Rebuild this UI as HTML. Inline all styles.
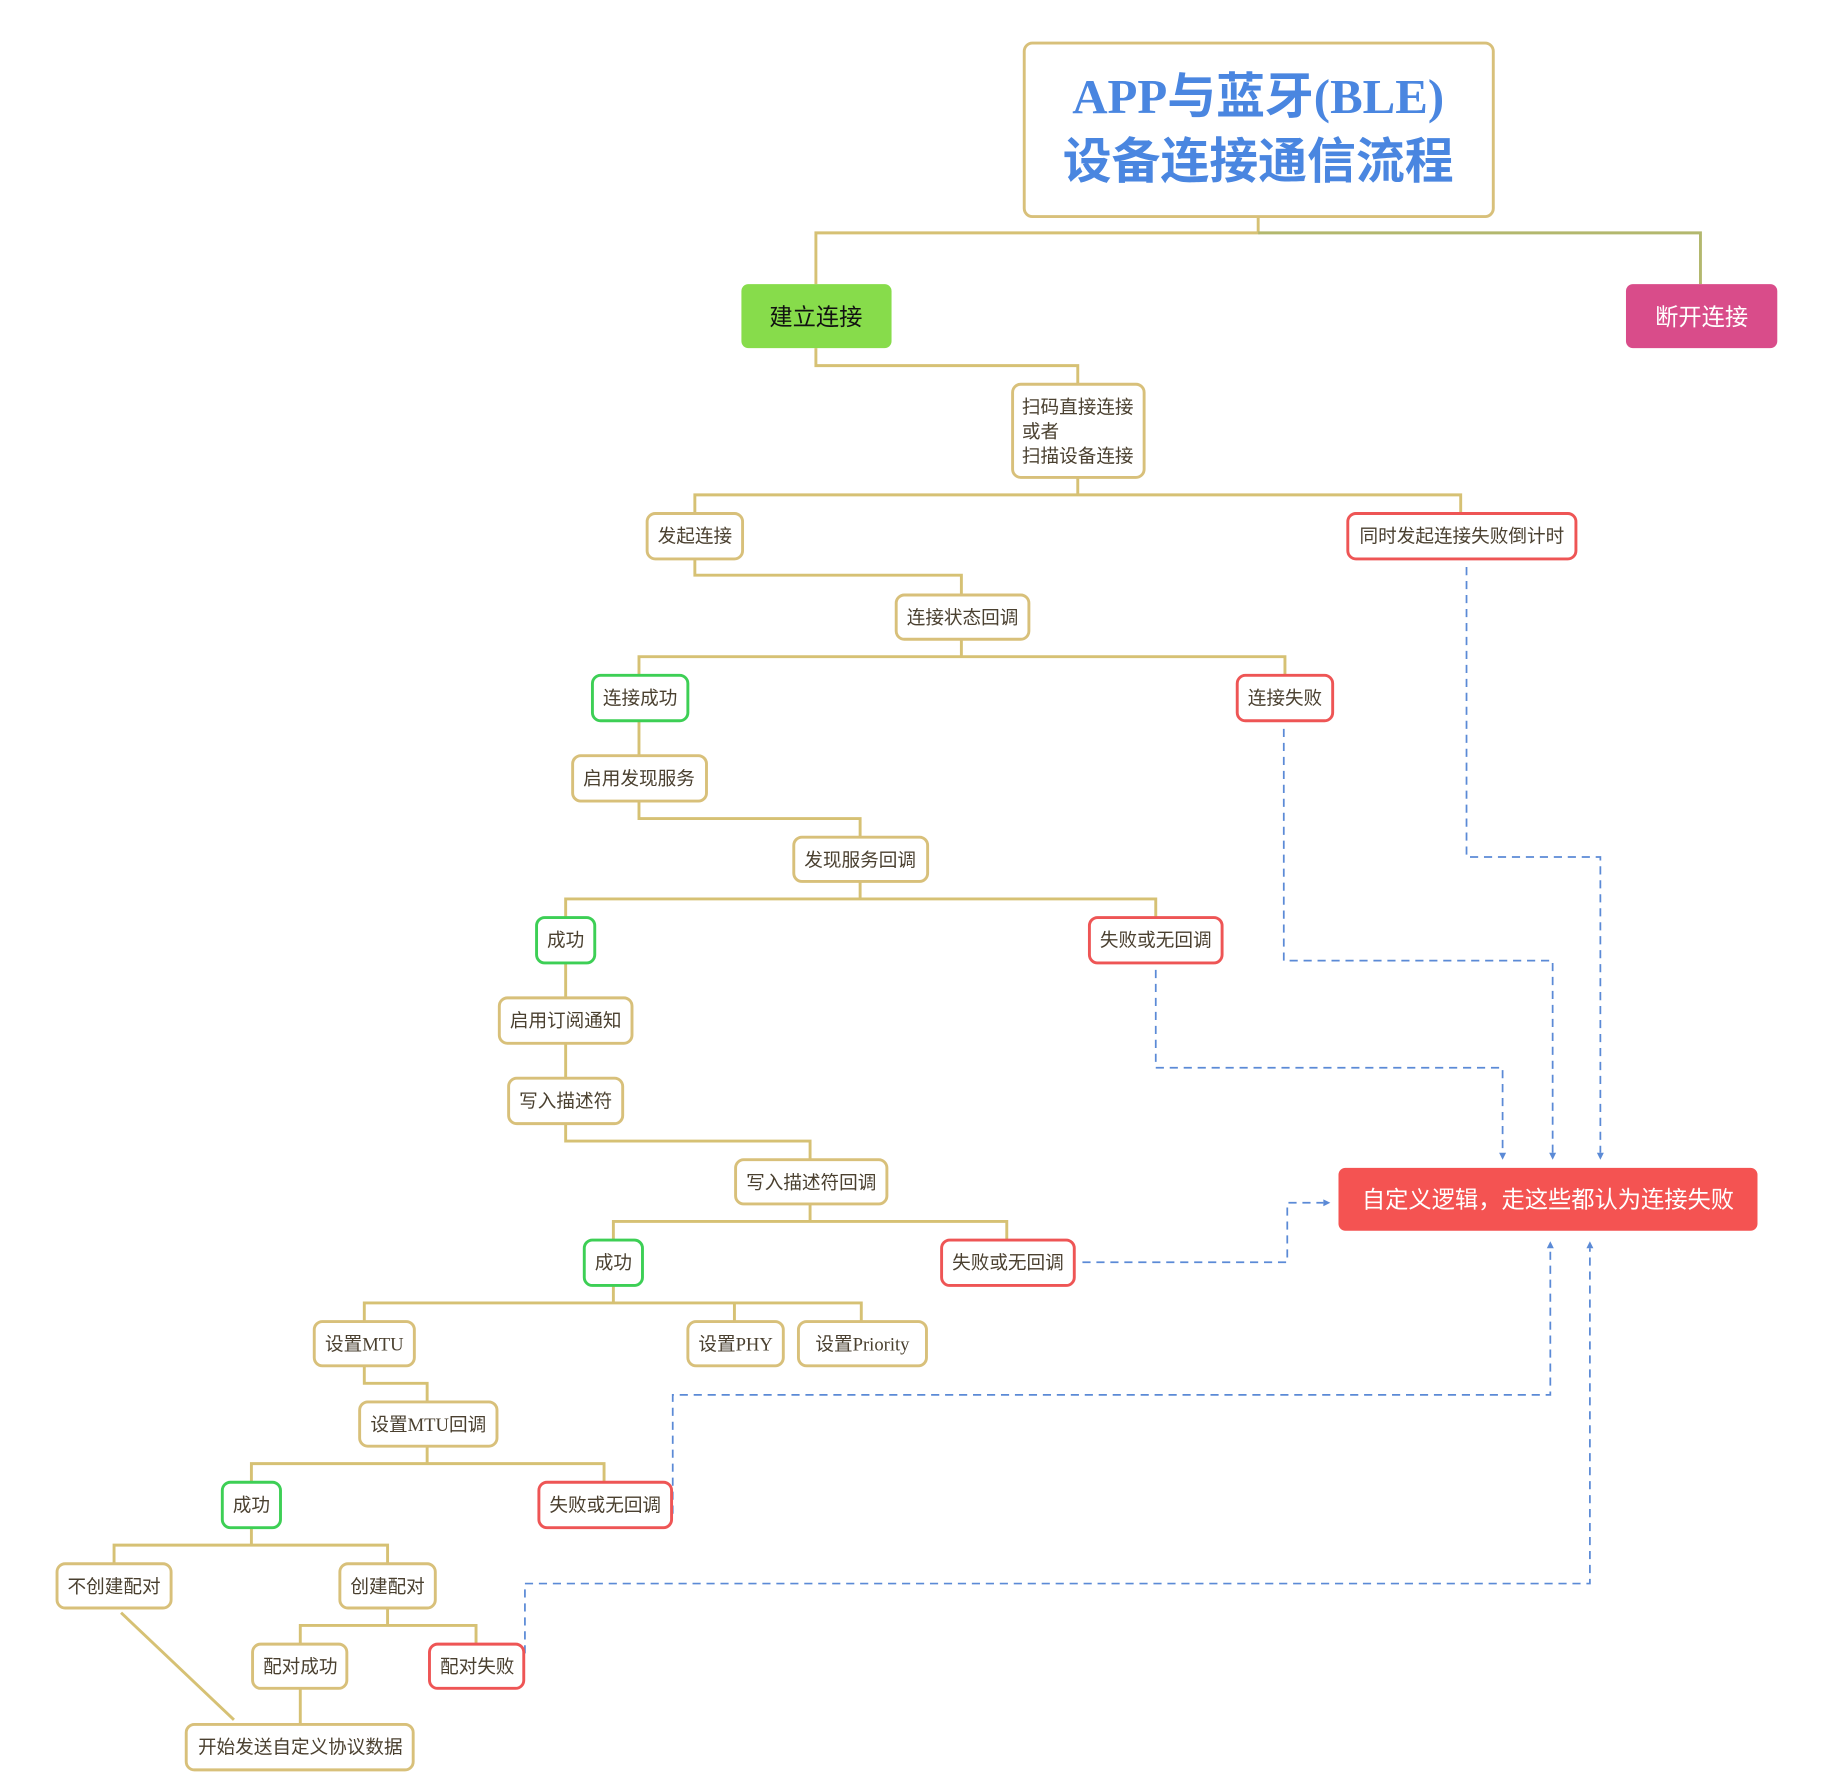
<!DOCTYPE html>
<html><head><meta charset="utf-8"><style>
html,body{margin:0;padding:0;background:#fff;}
svg{display:block;}
text{font-family:"Liberation Serif","Noto Sans CJK SC",sans-serif;}
.n rect{fill:#fff;stroke:#d8c07a;stroke-width:2.5;}
.g rect{stroke:#3dcf55;}
.r rect{stroke:#ee5555;}
.t{font-size:16px;fill:#4a4030;text-anchor:middle;font-family:"Liberation Serif","Noto Sans CJK SC",sans-serif;}
.l{fill:none;stroke:#d6c174;stroke-width:2.5;}
.d{fill:none;stroke:#5b8ad6;stroke-width:1.5;stroke-dasharray:7,5;}
.a{fill:#5b8ad6;}
</style></head><body>
<svg width="1825" height="1785" viewBox="0 0 1568 1533" preserveAspectRatio="none" xmlns="http://www.w3.org/2000/svg">
<!-- connectors -->
<path class="l" d="M1081 186V200H701V244"/>
<path class="l" style="stroke:#b3b86e" d="M1081 200H1461V244"/>
<path class="l" d="M701 299V314H926V330"/>
<path class="l" d="M926 410V425H597V441M926 425H1255V441"/>
<path class="l" d="M597 480V494H826V511"/>
<path class="l" d="M826 549V564H549V580M826 564H1104V580"/>
<path class="l" d="M549 619V649"/>
<path class="l" d="M549 688V703H739V719"/>
<path class="l" d="M739 757V772H486V788M739 772H993V788"/>
<path class="l" d="M486 827V857M486 896V926"/>
<path class="l" d="M486 965V980H696V996"/>
<path class="l" d="M696 1034V1049H527V1065M696 1049H865V1065"/>
<path class="l" d="M527 1104V1119H313V1135M527 1119H740V1135M631 1119V1135"/>
<path class="l" d="M313 1173V1188H367V1204"/>
<path class="l" d="M367 1242V1257H216V1273M367 1257H519V1273"/>
<path class="l" d="M216 1312V1327H98V1343M216 1327H333V1343"/>
<path class="l" d="M333 1381V1396H258V1412M333 1396H409V1412"/>
<path class="l" d="M258 1450V1481"/>
<path class="l" d="M104 1385L201 1477"/>
<!-- dashed -->
<path class="d" d="M1260 487V736H1375V990"/><path class="a" d="M1372 990h6l-3 6z"/>
<path class="d" d="M1103 626V825H1334V990"/><path class="a" d="M1331 990h6l-3 6z"/>
<path class="d" d="M993 833V917H1291V990"/><path class="a" d="M1288 990h6l-3 6z"/>
<path class="d" d="M930 1084H1106V1033H1137"/><path class="a" d="M1137 1030v6l6 -3z"/>
<path class="d" d="M578 1300V1198H1332V1072"/><path class="a" d="M1329 1072h6l-3 -6z"/>
<path class="d" d="M451 1420V1360H1366V1072"/><path class="a" d="M1363 1072h6l-3 -6z"/>
<!-- title -->
<rect x="880" y="37" width="403" height="149" rx="7" fill="#fff" stroke="#d8c07a" stroke-width="2.5"/>
<text x="1081" y="97" text-anchor="middle" font-size="42" font-weight="bold" fill="#4a86e0">APP与蓝牙(BLE)</text>
<text x="1081" y="153" text-anchor="middle" font-size="42" font-weight="bold" fill="#4a86e0" style="font-family:'Noto Sans CJK SC',sans-serif">设备连接通信流程</text>
<rect x="637" y="244" width="129" height="55" rx="6" fill="#87dc4b"/>
<text x="701" y="279" text-anchor="middle" font-size="20" fill="#111" style="font-family:'Noto Sans CJK SC',sans-serif">建立连接</text>
<rect x="1397" y="244" width="130" height="55" rx="6" fill="#d94c8a"/>
<text x="1462" y="279" text-anchor="middle" font-size="20" fill="#fff" style="font-family:'Noto Sans CJK SC',sans-serif">断开连接</text>
<rect x="1150" y="1003" width="360" height="54" rx="6" fill="#f45352"/>
<text x="1330" y="1037" text-anchor="middle" font-size="20" fill="#fff" style="font-family:'Noto Sans CJK SC',sans-serif">自定义逻辑，走这些都认为连接失败</text>
<!-- nodes -->
<g class="n"><rect x="870" y="330" width="113" height="80" rx="7"/>
<text class="t" x="878" y="355" style="text-anchor:start">扫码直接连接</text>
<text class="t" x="878" y="376" style="text-anchor:start">或者</text>
<text class="t" x="878" y="397" style="text-anchor:start">扫描设备连接</text></g>
<g class="n"><rect x="556" y="441" width="82" height="39" rx="7"/><text class="t" x="597" y="466">发起连接</text></g>
<g class="n r"><rect x="1158" y="441" width="196" height="39" rx="7"/><text class="t" x="1256" y="466">同时发起连接失败倒计时</text></g>
<g class="n"><rect x="770" y="511" width="114" height="38" rx="7"/><text class="t" x="827" y="536">连接状态回调</text></g>
<g class="n g"><rect x="509" y="580" width="82" height="39" rx="7"/><text class="t" x="550" y="605">连接成功</text></g>
<g class="n r"><rect x="1063" y="580" width="82" height="39" rx="7"/><text class="t" x="1104" y="605">连接失败</text></g>
<g class="n"><rect x="492" y="649" width="115" height="39" rx="7"/><text class="t" x="549" y="674">启用发现服务</text></g>
<g class="n"><rect x="682" y="719" width="115" height="38" rx="7"/><text class="t" x="739" y="744">发现服务回调</text></g>
<g class="n g"><rect x="461" y="788" width="50" height="39" rx="7"/><text class="t" x="486" y="813">成功</text></g>
<g class="n r"><rect x="936" y="788" width="114" height="39" rx="7"/><text class="t" x="993" y="813">失败或无回调</text></g>
<g class="n"><rect x="429" y="857" width="114" height="39" rx="7"/><text class="t" x="486" y="882">启用订阅通知</text></g>
<g class="n"><rect x="437" y="926" width="98" height="39" rx="7"/><text class="t" x="486" y="951">写入描述符</text></g>
<g class="n"><rect x="632" y="996" width="130" height="38" rx="7"/><text class="t" x="697" y="1021">写入描述符回调</text></g>
<g class="n g"><rect x="502" y="1065" width="50" height="39" rx="7"/><text class="t" x="527" y="1090">成功</text></g>
<g class="n r"><rect x="809" y="1065" width="114" height="39" rx="7"/><text class="t" x="866" y="1090">失败或无回调</text></g>
<g class="n"><rect x="270" y="1135" width="86" height="38" rx="7"/><text class="t" x="313" y="1160">设置MTU</text></g>
<g class="n"><rect x="591" y="1135" width="82" height="38" rx="7"/><text class="t" x="632" y="1160">设置PHY</text></g>
<g class="n"><rect x="686" y="1135" width="110" height="38" rx="7"/><text class="t" x="741" y="1160">设置Priority</text></g>
<g class="n"><rect x="309" y="1204" width="118" height="38" rx="7"/><text class="t" x="368" y="1229">设置MTU回调</text></g>
<g class="n g"><rect x="191" y="1273" width="50" height="39" rx="7"/><text class="t" x="216" y="1298">成功</text></g>
<g class="n r"><rect x="463" y="1273" width="114" height="39" rx="7"/><text class="t" x="520" y="1298">失败或无回调</text></g>
<g class="n"><rect x="49" y="1343" width="98" height="38" rx="7"/><text class="t" x="98" y="1368">不创建配对</text></g>
<g class="n"><rect x="292" y="1343" width="82" height="38" rx="7"/><text class="t" x="333" y="1368">创建配对</text></g>
<g class="n"><rect x="217" y="1412" width="81" height="38" rx="7"/><text class="t" x="258" y="1437">配对成功</text></g>
<g class="n r"><rect x="369" y="1412" width="81" height="38" rx="7"/><text class="t" x="410" y="1437">配对失败</text></g>
<g class="n"><rect x="160" y="1481" width="195" height="39" rx="7"/><text class="t" x="258" y="1506">开始发送自定义协议数据</text></g>
</svg>
</body></html>
